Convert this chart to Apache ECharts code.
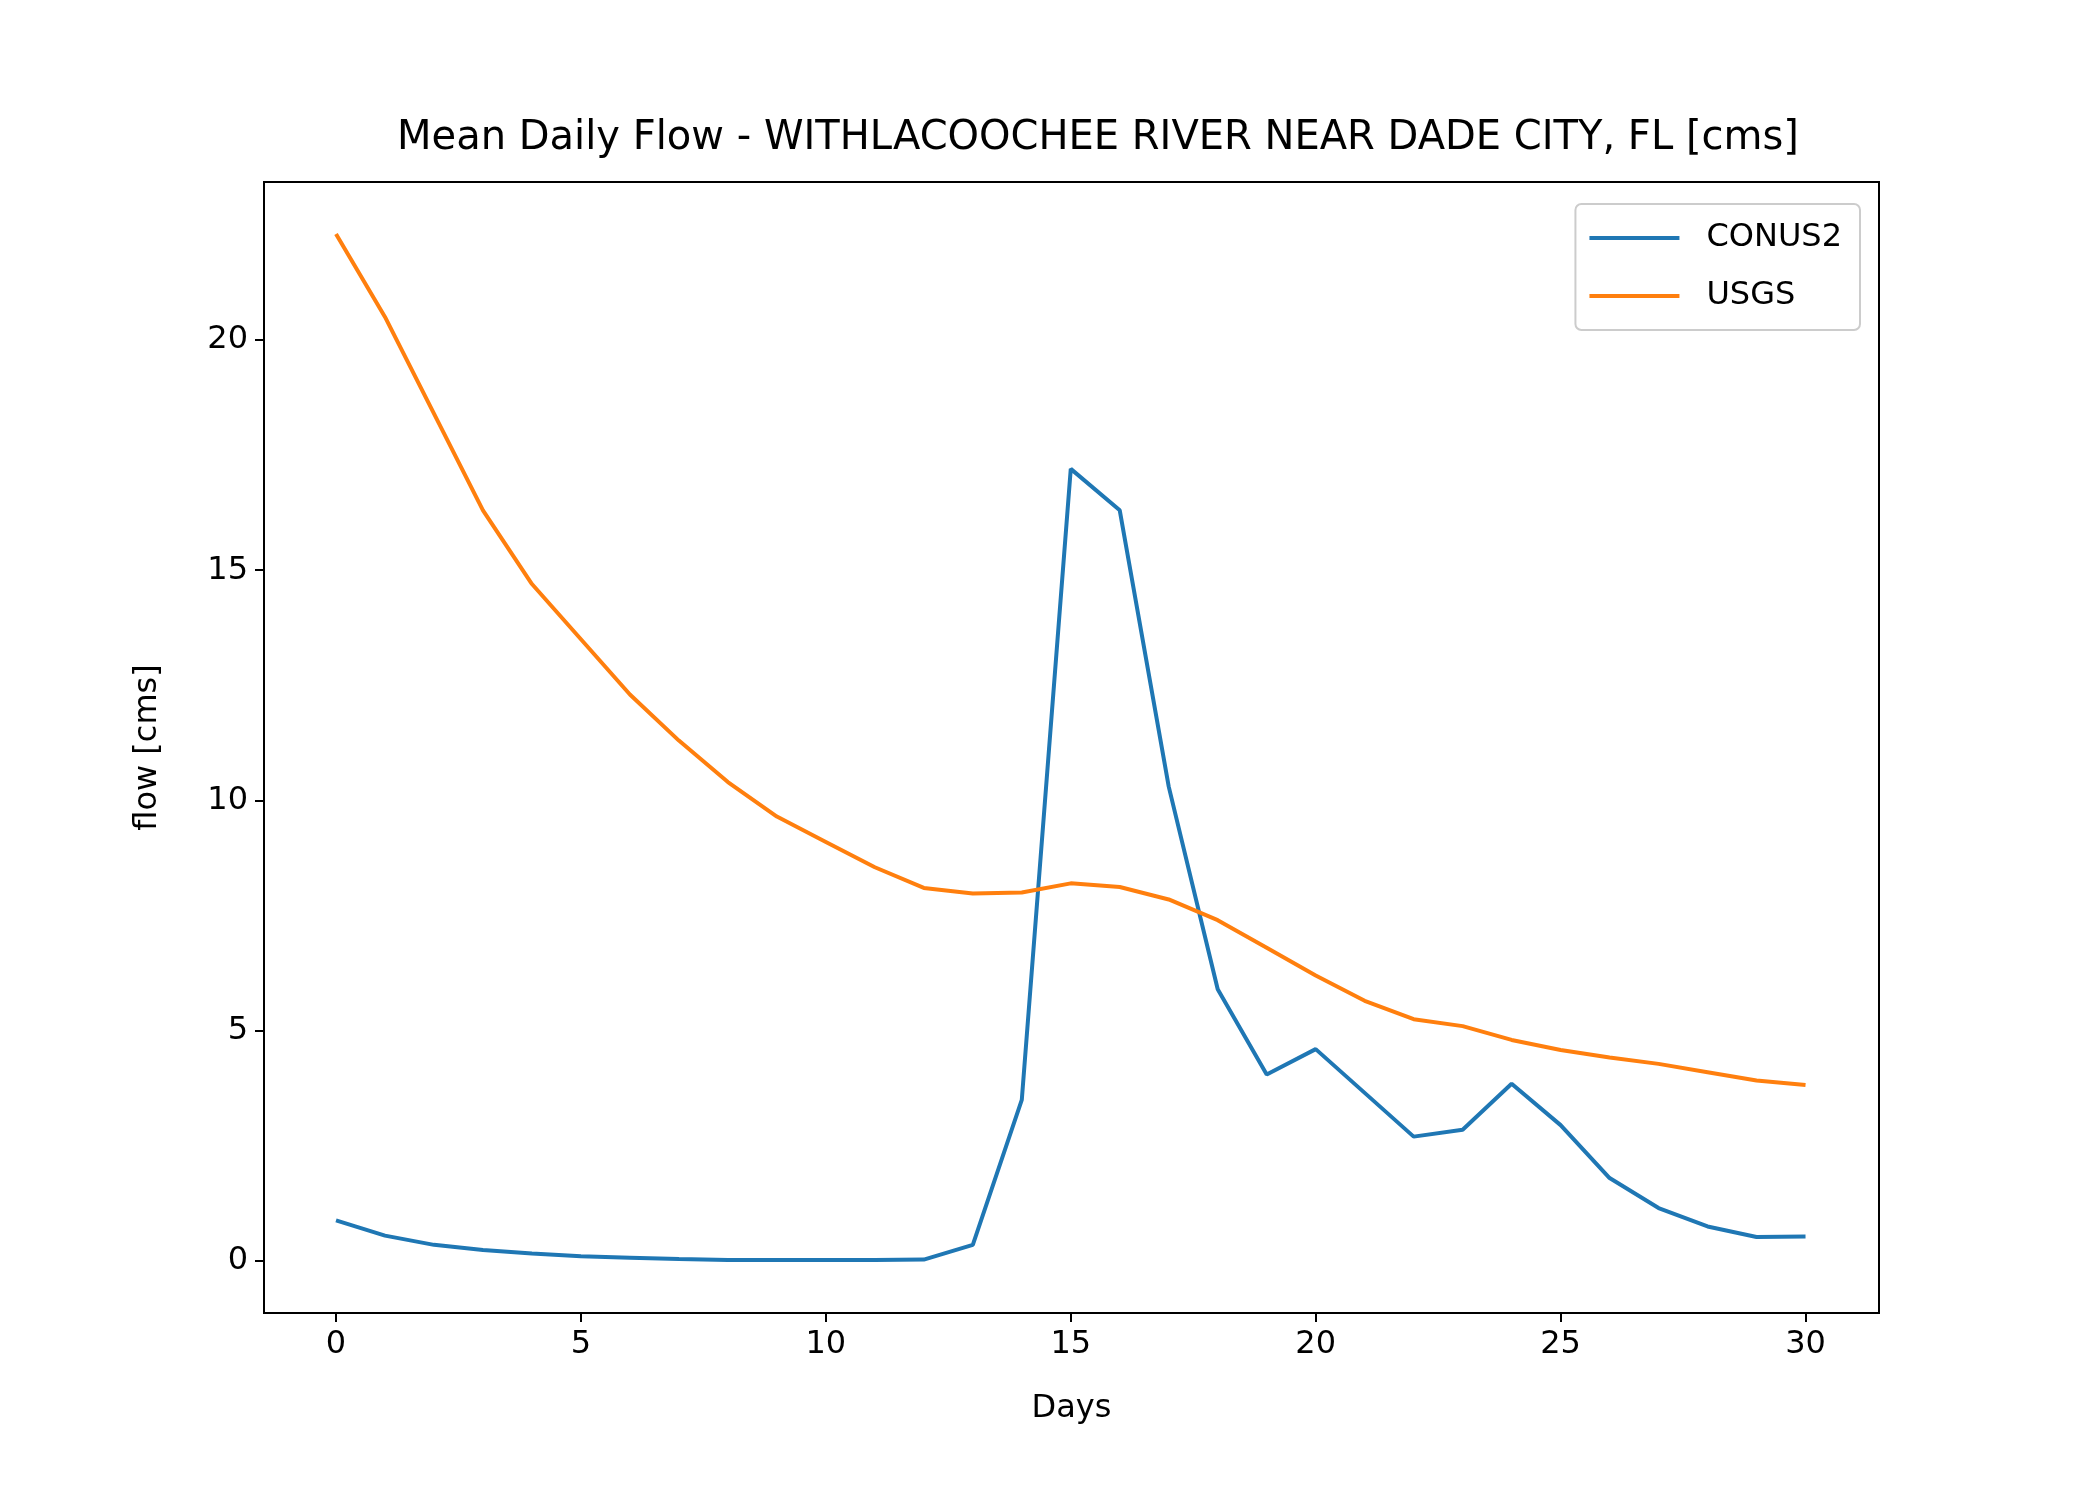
<!DOCTYPE html>
<html><head><meta charset="utf-8">
<script src="https://cdn.jsdelivr.net/npm/echarts@6/dist/echarts.min.js"></script>
<style>html,body{margin:0;background:#fff}#c{width:2100px;height:1500px}</style>
</head><body><div id="c"></div>
<script>
var days = [];
for (var i = 0; i <= 30; i++) days.push(i);
var conus2 = [0.88,0.55,0.35,0.24,0.16,0.10,0.07,0.04,0.02,0.02,0.02,0.02,0.03,0.35,3.5,17.2,16.3,10.3,5.9,4.05,4.6,3.65,2.7,2.85,3.85,2.95,1.8,1.15,0.75,0.52,0.53];
var usgs = [22.3,20.5,18.4,16.3,14.7,13.5,12.3,11.3,10.4,9.65,9.1,8.55,8.1,7.98,8.0,8.2,8.12,7.85,7.4,6.8,6.2,5.65,5.25,5.1,4.8,4.58,4.42,4.28,4.1,3.92,3.82];
var xTicks = [0,5,10,15,20,25,30];
var yTicks = [0,5,10,15,20];

var font = 'DejaVu Sans';
var chart = echarts.init(document.getElementById('c'));
function pairs(a){ return a.map(function(v,i){ return [days[i], v]; }); }
chart.setOption({
  animation: false,
  textStyle: {fontFamily: font, color: '#000'},
  title: {text: 'Mean Daily Flow - WITHLACOOCHEE RIVER NEAR DADE CITY, FL [cms]', left: 1093, top: 114, textAlign: 'center',
    textStyle: {fontFamily: font, fontSize: 40, fontWeight: 'normal', color: '#000'}},
  grid: {left: 264, right: 221, top: 182, bottom: 187, show: true, borderColor: '#000', borderWidth: 2},
  legend: {right: 240, top: 204, orient: 'vertical', itemGap: 26, itemWidth: 90, itemHeight: 4, icon: 'rect',
    padding: [18, 18, 18, 14], borderColor: '#ccc', borderWidth: 2, borderRadius: 6,
    textStyle: {fontFamily: font, fontSize: 32, color: '#000', padding: [0,0,0,22]},
    data: ['CONUS2', 'USGS']},
  xAxis: {type: 'value', min: -1.47, max: 31.5, name: 'Days', nameLocation: 'middle', nameGap: 80,
    nameTextStyle: {fontFamily: font, fontSize: 32, color: '#000'},
    splitLine: {show: false},
    axisLine: {show: true, onZero: false, lineStyle: {color: '#000', width: 2}},
    axisTick: {show: true, length: 9, customValues: xTicks, lineStyle: {color: '#000', width: 2}},
    axisLabel: {customValues: xTicks, fontSize: 32, color: '#000', fontFamily: font, margin: 16}},
  yAxis: {type: 'value', min: -1.13, max: 23.43, name: 'flow [cms]', nameLocation: 'middle', nameGap: 100,
    nameTextStyle: {fontFamily: font, fontSize: 32, color: '#000'},
    splitLine: {show: false},
    axisLine: {show: true, onZero: false, lineStyle: {color: '#000', width: 2}},
    axisTick: {show: true, length: 9, customValues: yTicks, lineStyle: {color: '#000', width: 2}},
    axisLabel: {customValues: yTicks, fontSize: 32, color: '#000', fontFamily: font, margin: 16}},
  series: [
    {name: 'CONUS2', type: 'line', data: pairs(conus2), showSymbol: false, color: '#1f77b4', lineStyle: {width: 4}},
    {name: 'USGS', type: 'line', data: pairs(usgs), showSymbol: false, color: '#ff7f0e', lineStyle: {width: 4}}
  ]
});
</script></body></html>
